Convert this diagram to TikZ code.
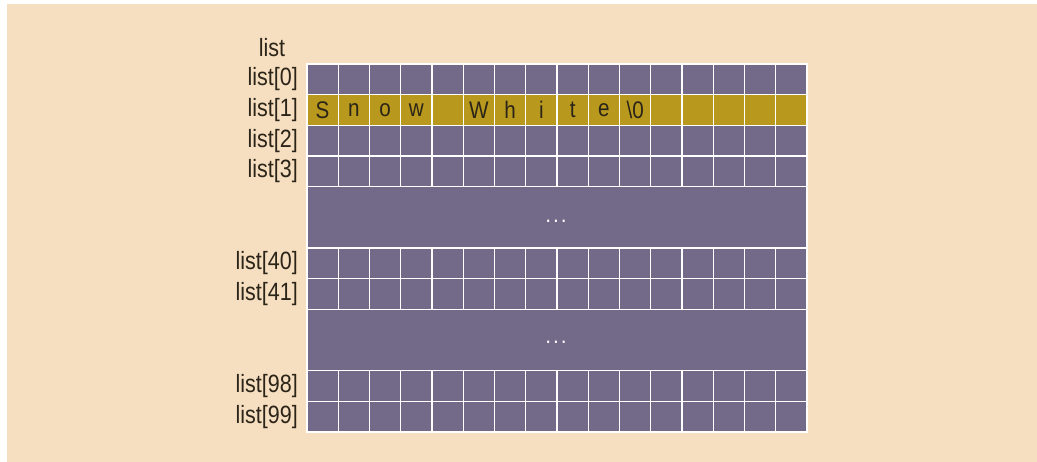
\documentclass[tikz,border=0pt]{standalone}
\usepackage{fontspec}
\setmainfont{Liberation Sans}[FakeStretch=0.86]
\usetikzlibrary{positioning}
\definecolor{panel}{HTML}{F6DEC0}
\definecolor{cellfill}{HTML}{736A8A}
\definecolor{goldfill}{HTML}{B8991E}
\definecolor{inktext}{HTML}{2B2418}

\begin{document}
\begin{tikzpicture}[x=1pt,y=-1pt,
  cell/.style={draw=white,line width=1.3pt,fill=cellfill},
  strcell/.style={cell,fill=goldfill},
  rowlabel/.style={anchor=east,inner sep=0pt,text=inktext,font=\fontsize{25}{25}\selectfont},
  chr/.style={inner sep=0pt,text=inktext,font=\fontsize{24}{24}\selectfont},
  gapdots/.style={inner sep=0pt,anchor=base,text=white,font=\fontsize{16}{16}\selectfont\bfseries}]
  \useasboundingbox (0,0) rectangle (1037,462);
  \fill[panel] (7,4) rectangle (1037,462);
  \def\cw{31.25}
  \def\rh{30.67}
  % plain rows of 16 cells
  \foreach \r in {0,2,3,6,7,10,11}
    \foreach \c in {0,...,15}
      \draw[cell] (307+\c*\cw,64+\r*\rh) rectangle ++(\cw,\rh);
  % the string row
  \foreach \c in {0,...,15}
    \draw[strcell] (307+\c*\cw,64+\rh) rectangle ++(\cw,\rh);
  % skipped rows
  \draw[cell] (307,64+4*\rh) rectangle ++(16*\cw,2*\rh);
  \draw[cell] (307,64+8*\rh) rectangle ++(16*\cw,2*\rh);
  \node[gapdots] (gap1) at (556,223) {.\hspace{4pt}.\hspace{4pt}.};
  \node[gapdots] (gap2) at (556,344) {.\hspace{4pt}.\hspace{4pt}.};
  % characters
  \foreach \ch [count=\i from 0] in {S,n,o,w,{},W,h,i,t,e,\textbackslash0}
    \node[chr] (ch\i) at (307+\i*\cw+\cw/2,64+1.5*\rh) {\ch};
  % row labels
  \foreach \r/\idx in {0/0,1/1,2/2,3/3,6/40,7/41,10/98,11/99}
    \node[rowlabel] (lbl\idx) at (298,64+\r*\rh+\rh/2) {list[\idx]};
  \node[chr,font=\fontsize{25}{25}\selectfont] (arr) at (272,48) {list};
\end{tikzpicture}
\end{document}
